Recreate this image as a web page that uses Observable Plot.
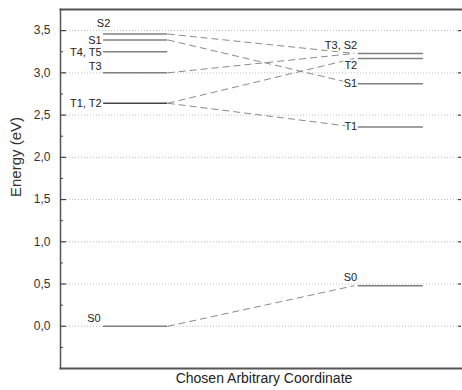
<!DOCTYPE html>
<html>
<head>
<meta charset="utf-8">
<script src="https://cdn.jsdelivr.net/npm/d3@7"></script>
<script src="https://cdn.jsdelivr.net/npm/@observablehq/plot@0.6"></script>
<style>
  html, body { margin: 0; padding: 0; background: #fff; }
  svg { display: block; }
</style>
</head>
<body>
<div id="chart"></div>
<script>
// ---- data ----
const leftStates   = ["S2", "S1", "T4, T5", "T3", "T1, T2", "S0"];
const leftEnergies = [3.46, 3.39, 3.25, 3.00, 2.64, 0.00];
const rightStates   = ["T3, S2", "T2", "S1", "T1", "S0"];
const rightEnergies = [3.23, 3.17, 2.87, 2.36, 0.48];
const linkFrom = ["S2", "S1", "T3", "T1, T2", "T1, T2", "S0"];
const linkTo   = ["T3, S2", "S1", "T3, S2", "T2", "T1", "S0"];
const majorTicks = [0, 0.5, 1, 1.5, 2, 2.5, 3, 3.5];
const minorTicks = [-0.25, 0.25, 0.75, 1.25, 1.75, 2.25, 2.75, 3.25, 3.75];
const yTitle = "Energy (eV)";
const xTitle = "Chosen Arbitrary Coordinate";

// ---- layout (column positions on an arbitrary x scale) ----
const L0 = 43, L1 = 107, R0 = 297, R1 = 362, REND = 293;

const left = leftStates.map((s, i) => ({state: s, e: leftEnergies[i]}));
const right = rightStates.map((s, i) => ({state: s, e: rightEnergies[i]}));
const eL = Object.fromEntries(left.map(d => [d.state, d.e]));
const eR = Object.fromEntries(right.map(d => [d.state, d.e]));
const links = linkFrom.map((f, i) => ({y1: eL[f], y2: eR[linkTo[i]]}));

// label placement per state (style)
const leftLabelStyle = {
  "S2":     {dx: 0, dy: -11, anchor: "middle", x: L0},
  "S1":     {dx: -2, dy: 1, anchor: "end", x: L0},
  "T4, T5": {dx: -2, dy: 1, anchor: "end", x: L0},
  "T3":     {dx: -2, dy: -6, anchor: "end", x: L0},
  "T1, T2": {dx: -2, dy: 0, anchor: "end", x: L0},
  "S0":     {dx: -3, dy: -8, anchor: "end", x: L0}
};
const rightLabelStyle = {
  "T3, S2": {dy: -8},
  "T2":     {dy: 7},
  "S1":     {dy: 0},
  "T1":     {dy: 0},
  "S0":     {dy: -8}
};

const fmt = d => d.toFixed(1).replace(".", ",");
const gray = "#808080";

const chart = Plot.plot({
  width: 462,
  height: 390,
  marginLeft: 60,
  marginRight: 1,
  marginTop: 9,
  marginBottom: 22,
  x: {domain: [0, 400], axis: null},
  y: {domain: [-0.5, 3.75], axis: null},
  style: {fontFamily: "'Liberation Sans', Arial, sans-serif", background: "#fff", color: "#222"},
  marks: [
    // dotted grid
    Plot.ruleY(majorTicks, {stroke: "#bdbdbd", strokeWidth: 1, strokeDasharray: "1,2"}),
    // connectors
    Plot.link(links, {x1: () => L1, x2: () => REND, y1: "y1", y2: "y2",
      stroke: "#8a8a8a", strokeWidth: 1, strokeDasharray: "7,4"}),
    // levels
    Plot.ruleY(left, {y: "e", x1: () => L0, x2: () => L1, stroke: d => d.state === "T1, T2" ? "#444" : gray, strokeWidth: 1.5}),
    Plot.ruleY(right, {y: "e", x1: () => R0, x2: () => R1, stroke: gray, strokeWidth: 1.5}),
    // left labels
    ...left.map(d => Plot.text([d], {
      x: () => leftLabelStyle[d.state].x, y: "e", text: "state",
      dx: leftLabelStyle[d.state].dx, dy: leftLabelStyle[d.state].dy,
      textAnchor: leftLabelStyle[d.state].anchor, fontSize: 11, fill: "#222"
    })),
    // right labels
    ...right.map(d => Plot.text([d], {
      x: () => R0, y: "e", text: "state", dx: -1, dy: rightLabelStyle[d.state].dy,
      textAnchor: "end", fontSize: 11, fill: "#222", stroke: "#fff", strokeWidth: 3
    })),
    // frame lines
    Plot.frame({anchor: "top", stroke: "#555", strokeWidth: 2}),
    Plot.frame({anchor: "bottom", stroke: "#555", strokeWidth: 2}),
    Plot.frame({anchor: "left", stroke: "#555", strokeWidth: 1.5}),
    // inward ticks
    Plot.tickY(majorTicks, {y: d => d, insetRight: 395, stroke: "#444", strokeWidth: 1.2}),
    Plot.tickY(minorTicks, {y: d => d, insetRight: 398, stroke: "#444", strokeWidth: 1}),
    Plot.tickY(majorTicks, {y: d => d, insetLeft: 398, stroke: "#444", strokeWidth: 1.2}),
    // tick labels
    Plot.text(majorTicks, {y: d => d, text: fmt, frameAnchor: "left", dx: -10, textAnchor: "end", fontSize: 12, fill: "#333"}),
    // axis titles
    Plot.text([yTitle], {frameAnchor: "left", dx: -44, dy: 8, rotate: -90, fontSize: 15, fill: "#333"}),
    Plot.text([xTitle], {frameAnchor: "bottom", dy: 14, dx: 3, fontSize: 14, fill: "#222"})
  ]
});
document.getElementById("chart").appendChild(chart);
</script>
</body>
</html>
